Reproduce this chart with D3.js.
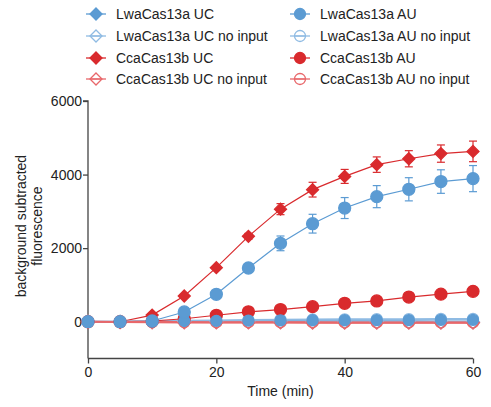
<!DOCTYPE html>
<html>
<head>
<meta charset="utf-8">
<script src="https://cdn.jsdelivr.net/npm/d3@7"></script>
<style>
  html, body { margin: 0; padding: 0; background: #fff; }
  svg text { font-family: "Liberation Sans", Arial, Helvetica, sans-serif; fill: #222; }
</style>
</head>
<body>
<svg id="chart" width="491" height="407"></svg>
<script>
// Sampling times (min)
const times = [0, 5, 10, 15, 20, 25, 30, 35, 40, 45, 50, 55, 60];

// Mean background-subtracted fluorescence for each condition
const lwaUC        = [0, 0, 10, 20, 25, 30, 35, 40, 40, 45, 45, 50, 50];
const lwaUCNoInput = [0, 0, 0, 0, -5, -5, -5, -10, -10, -10, -10, -10, -10];
const ccaUC        = [0, 0, 180, 700, 1470, 2320, 3060, 3590, 3950, 4270, 4430, 4570, 4630];
const ccaUCNoInput = [0, -10, -15, -20, -20, -20, -20, -25, -25, -25, -25, -25, -25];
const lwaAU        = [0, 0, 20, 265, 745, 1460, 2130, 2665, 3090, 3400, 3600, 3810, 3890];
const lwaAUNoInput = [0, 0, 15, 25, 35, 45, 55, 60, 65, 70, 70, 75, 75];
const ccaAU        = [0, 0, 20, 80, 175, 270, 330, 410, 500, 565, 670, 750, 825];
const ccaAUNoInput = [0, -5, -10, -10, -15, -15, -15, -15, -20, -20, -20, -20, -20];

// Standard error for the curves that show error bars
const ccaUCErr = [0, 0, 0, 0, 40, 80, 150, 200, 190, 210, 220, 235, 280];
const lwaAUErr = [0, 0, 0, 0, 40, 90, 200, 255, 285, 300, 315, 320, 355];

// Axis ticks
const xTicks = [0, 20, 40, 60];
const yTicks = [0, 2000, 4000, 6000];

const blue = "#5b9bd3", lightBlue = "#8fbbe3";
const red = "#d92a2d", lightRed = "#e8676a";

// Drawing order follows the legend order; legendShape is what the key shows,
// plotShape what sits on the curve.
const series = [
  { name: "LwaCas13a UC",          values: lwaUC,        color: blue,      legendShape: "diamond",  plotShape: "circle",   fill: true,  r: 5.5 },
  { name: "LwaCas13a UC no input", values: lwaUCNoInput, color: lightBlue, legendShape: "diamond",  plotShape: "diamond",  fill: false, r: 6.5 },
  { name: "CcaCas13b UC",          values: ccaUC,        color: red,       legendShape: "diamond",  plotShape: "diamond",  fill: true,  r: 6,   err: ccaUCErr },
  { name: "CcaCas13b UC no input", values: ccaUCNoInput, color: lightRed,  legendShape: "diamond",  plotShape: "diamond",  fill: false, r: 6.5 },
  { name: "LwaCas13a AU",          values: lwaAU,        color: blue,      legendShape: "circle",   plotShape: "circle",   fill: true,  r: 6,   err: lwaAUErr },
  { name: "LwaCas13a AU no input", values: lwaAUNoInput, color: lightBlue, legendShape: "hcircle",  plotShape: "hcircle",  fill: false, r: 5.5 },
  { name: "CcaCas13b AU",          values: ccaAU,        color: red,       legendShape: "circle",   plotShape: "circle",   fill: true,  r: 6 },
  { name: "CcaCas13b AU no input", values: ccaAUNoInput, color: lightRed,  legendShape: "hcircle",  plotShape: "hcircle",  fill: false, r: 5.5 }
];

const svg = d3.select("#chart");
const x = d3.scaleLinear().domain([0, 60]).range([88, 473]);
const y = d3.scaleLinear().domain([-1000, 6000]).range([358.5, 101]);

// Axes
const xAxis = svg.append("g").attr("transform", "translate(0,358.5)")
  .call(d3.axisBottom(x).tickValues(xTicks).tickSize(5).tickPadding(4).tickFormat(d3.format("d")));
const yAxis = svg.append("g").attr("transform", "translate(88,0)")
  .call(d3.axisLeft(y).tickValues(yTicks).tickSize(5).tickPadding(1).tickFormat(d3.format("d")));
[xAxis, yAxis].forEach(g => {
  g.select(".domain").attr("stroke", "#444").attr("stroke-width", 1.3);
  g.selectAll(".tick line").attr("stroke", "#444").attr("stroke-width", 1.3);
  g.selectAll("text").attr("font-size", 14).attr("fill", "#222")
    .attr("font-family", "Liberation Sans, Arial, sans-serif");
});
// extend the y axis down to meet the x axis
yAxis.select(".domain").attr("d", `M-5,${y(6000)}H0V${y(-1000)}`);
xAxis.select(".domain").attr("d", `M0,0H${x(60) - x(0)}`).attr("transform", `translate(${x(0)},0)`);

// Axis titles
svg.append("text").attr("x", x(30)).attr("y", 396).attr("text-anchor", "middle")
  .attr("font-size", 14).text("Time (min)");
const yTitle = svg.append("text").attr("transform", `translate(26,${y(2600)}) rotate(-90)`)
  .attr("text-anchor", "middle").attr("font-size", 14);
yTitle.append("tspan").attr("x", 0).attr("dy", 0).text("background subtracted");
yTitle.append("tspan").attr("x", 0).attr("dy", 16).text("fluorescence");

// Marker drawing
function drawMarker(g, shape, cx, cy, r, color, fill) {
  if (shape === "diamond") {
    g.append("path")
      .attr("d", `M${cx},${cy - r}L${cx + r},${cy}L${cx},${cy + r}L${cx - r},${cy}Z`)
      .attr("fill", fill ? color : "none").attr("stroke", color).attr("stroke-width", 1.3);
    if (!fill) g.append("line").attr("x1", cx - r).attr("x2", cx + r).attr("y1", cy).attr("y2", cy)
      .attr("stroke", color).attr("stroke-width", 1.2);
  } else {
    g.append("circle").attr("cx", cx).attr("cy", cy).attr("r", r)
      .attr("fill", fill ? color : "none").attr("stroke", color).attr("stroke-width", 1.3);
    if (shape === "hcircle") g.append("line").attr("x1", cx - r).attr("x2", cx + r).attr("y1", cy).attr("y2", cy)
      .attr("stroke", color).attr("stroke-width", 1.2);
  }
}

const line = d3.line().x((d, i) => x(times[i])).y(d => y(d));
const plot = svg.append("g");

// Lines, drawn first so that markers sit above them
series.forEach(s => {
  plot.append("path").datum(s.values).attr("d", line)
    .attr("fill", "none").attr("stroke", s.color).attr("stroke-width", s.fill ? 1.2 : 2);
});

// Error bars
series.filter(s => s.err).forEach(s => {
  const g = plot.append("g").attr("stroke", s.color).attr("stroke-width", 1.2);
  s.values.forEach((v, i) => {
    const e = s.err[i];
    if (!e) return;
    const cx = x(times[i]);
    g.append("line").attr("x1", cx).attr("x2", cx).attr("y1", y(v - e)).attr("y2", y(v + e));
    [v - e, v + e].forEach(b => g.append("line").attr("x1", cx - 4).attr("x2", cx + 4).attr("y1", y(b)).attr("y2", y(b)));
  });
});

// Markers: open symbols first, then filled ones
const markerOrder = [1, 3, 5, 7, 6, 2, 0, 4];
markerOrder.forEach(k => {
  const s = series[k];
  const g = plot.append("g");
  s.values.forEach((v, i) => drawMarker(g, s.plotShape, x(times[i]), y(v), s.r, s.color, s.fill));
});

// Legend: two columns of four rows
const legend = svg.append("g");
const rowsY = [14, 36, 58, 79];
series.forEach((s, i) => {
  const col = Math.floor(i / 4), row = i % 4;
  const mx = col === 0 ? 96 : 300;
  const ly = rowsY[row];
  const g = legend.append("g");
  g.append("line").attr("x1", mx - 10).attr("x2", mx + 10).attr("y1", ly).attr("y2", ly)
    .attr("stroke", s.color).attr("stroke-width", 1.3);
  drawMarker(g, s.legendShape, mx, ly, s.legendShape === "diamond" ? 6 : 5.5, s.color, s.fill);
  g.append("text").attr("x", mx + 20).attr("y", ly + 5).attr("font-size", 14).text(s.name);
});
</script>
</body>
</html>
